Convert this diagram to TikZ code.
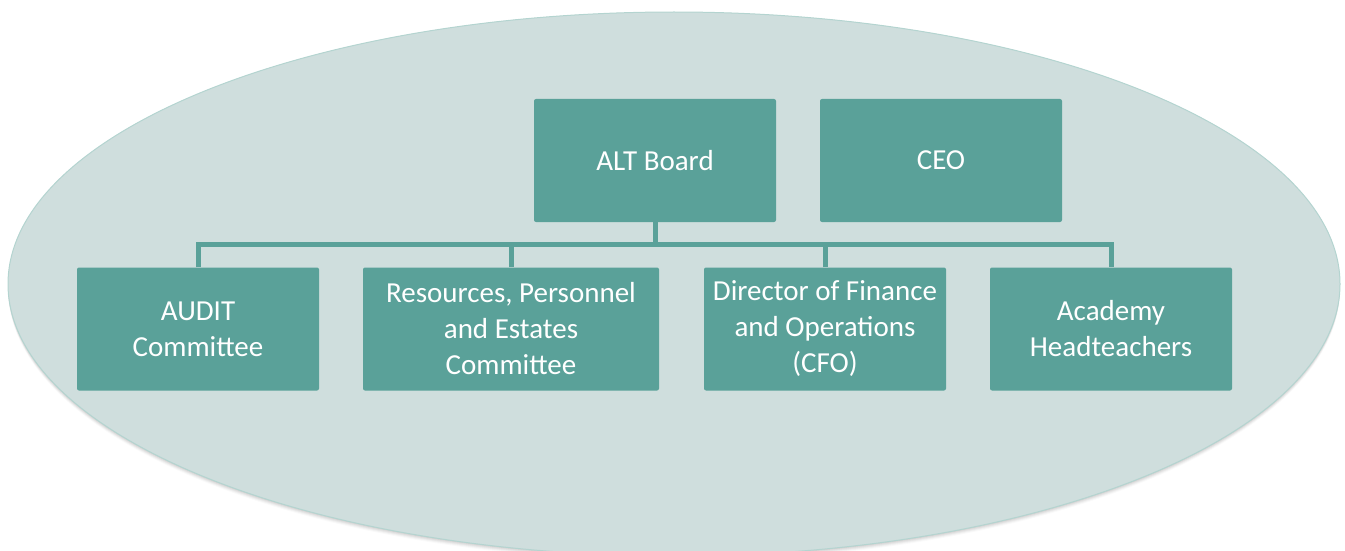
\documentclass[tikz,border=0pt]{standalone}
\usepackage{fontspec}
\setmainfont{Carlito}
\begin{document}
\definecolor{ovalfill}{HTML}{CFDEDD}
\definecolor{ovaledge}{HTML}{B4D4D0}
\definecolor{boxfill}{HTML}{5AA199}
\definecolor{linkcol}{HTML}{5AA199}
\begin{tikzpicture}[x=1pt,y=-1pt,
  orgbox/.style={fill=boxfill, draw=none, rounded corners=2pt, inner sep=0pt,
    text=white, align=center, font=\fontsize{29}{36}\selectfont},
  link/.style={draw=linkcol, line width=5pt, line join=miter}]
  \useasboundingbox (0,0) rectangle (1345,551);
  % soft shadow under the oval
  \foreach \d/\o in {1/0.06,2/0.05,3/0.04,4/0.03,5/0.02}
    \fill[black, opacity=\o] (674,284+\d) ellipse [x radius=666, y radius=272];
  % background oval
  \fill[ovalfill] (674,284) ellipse [x radius=666, y radius=272];
  \draw[ovaledge, line width=1pt] (674,284) ellipse [x radius=666, y radius=272];
  % top row
  \node[orgbox, minimum width=242pt, minimum height=123pt] (board) at (655,160.5) {ALT Board};
  \node[orgbox, minimum width=242pt, minimum height=123pt] (ceo) at (941,160.5) {CEO};
  % bottom row
  \node[orgbox, minimum width=242pt, minimum height=123pt] (audit) at (198,329) {AUDIT\\Committee};
  \node[orgbox, minimum width=296pt, minimum height=123pt] (rpe) at (511,329) {Resources, Personnel\\and Estates\\Committee};
  \node[orgbox, minimum width=242pt, minimum height=123pt] (cfo) at (825,329) {Director of Finance\\and Operations\\(CFO)};
  \node[orgbox, minimum width=242pt, minimum height=123pt] (heads) at (1111,329) {Academy\\Headteachers};
  % connectors
  \coordinate (bus) at (655,244.5);
  \draw[link] (board.south) -- (bus);
  \draw[link] (audit.north) |- (bus) -| (heads.north);
  \draw[link] (rpe.north) -- (rpe.north |- bus);
  \draw[link] (cfo.north) -- (cfo.north |- bus);
\end{tikzpicture}
\end{document}
